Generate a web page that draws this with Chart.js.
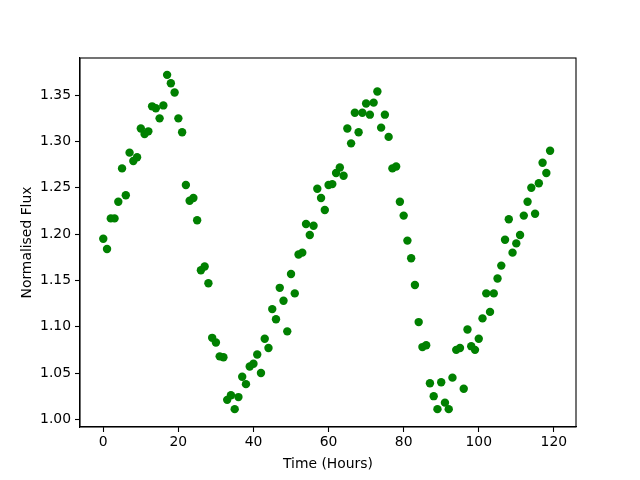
<!DOCTYPE html>
<html>
<head>
<meta charset="utf-8">
<script src="https://cdn.jsdelivr.net/npm/chart.js@4.4.1/dist/chart.umd.min.js"></script>
<style>
  html, body { margin: 0; padding: 0; background: #fff; }
  #wrap { width: 640px; height: 480px; }
</style>
</head>
<body>
<div id="wrap"><canvas id="chartFlux" width="640" height="480"></canvas></div>
<script>
// hours 0..119, one reading per hour
const hours = [];
for (let h = 0; h < 120; h++) hours.push(h);

const flux = [
    1.195, 1.184, 1.217, 1.217, 1.235, 1.271, 1.242, 1.288, 1.279, 1.283,
    1.314, 1.308, 1.311, 1.338, 1.336, 1.325, 1.339, 1.372, 1.363, 1.353,
    1.325, 1.310, 1.253, 1.236, 1.239, 1.215, 1.161, 1.165, 1.147, 1.088,
    1.083, 1.068, 1.067, 1.021, 1.026, 1.011, 1.024, 1.046, 1.038, 1.057,
    1.060, 1.070, 1.050, 1.087, 1.077, 1.119, 1.108, 1.142, 1.128, 1.095,
    1.157, 1.136, 1.178, 1.180, 1.211, 1.199, 1.209, 1.249, 1.239, 1.226,
    1.253, 1.254, 1.266, 1.272, 1.263, 1.314, 1.298, 1.331, 1.310, 1.331,
    1.341, 1.329, 1.342, 1.354, 1.315, 1.329, 1.305, 1.271, 1.273, 1.235,
    1.220, 1.193, 1.174, 1.145, 1.105, 1.078, 1.080, 1.039, 1.025, 1.011,
    1.040, 1.018, 1.011, 1.045, 1.075, 1.077, 1.033, 1.097, 1.079, 1.075,
    1.087, 1.109, 1.136, 1.116, 1.136, 1.152, 1.166, 1.194, 1.216, 1.180,
    1.190, 1.199, 1.220, 1.235, 1.250, 1.222, 1.255, 1.277, 1.266, 1.290
];

const xTicks = [0, 20, 40, 60, 80, 100, 120];
const yTicks = [1.00, 1.05, 1.10, 1.15, 1.20, 1.25, 1.30, 1.35];

const points = hours.map((h, i) => ({ x: h, y: flux[i] }));

const font = { family: "DejaVu Sans", size: 13.9 };

// draws the full box round the plot, like matplotlib's spines
const frame = {
    id: "frame",
    afterDraw(c) {
        const a = c.chartArea;
        const ctx = c.ctx;
        ctx.save();
        ctx.strokeStyle = "#000";
        ctx.lineWidth = 1.1;
        ctx.strokeRect(a.left, a.top, a.right - a.left, a.bottom - a.top);
        ctx.restore();
    }
};

const ctx = document.getElementById("chartFlux").getContext("2d");
new Chart(ctx, {
    type: "scatter",
    data: {
        datasets: [{
            label: "Flux",
            data: points,
            backgroundColor: "#008000",
            borderColor: "#008000",
            borderWidth: 0,
            pointRadius: 4.2,
            pointHoverRadius: 4.2
        }]
    },
    options: {
        responsive: false,
        animation: false,
        events: [],
        layout: { padding: { left: 0, top: 58, right: 64, bottom: 0 } },
        plugins: {
            legend: { display: false },
            tooltip: { enabled: false }
        },
        scales: {
            x: {
                type: "linear",
                min: -6.2,
                max: 125.9,
                afterBuildTicks: (axis) => { axis.ticks = xTicks.map(v => ({ value: v })); },
                afterFit: (axis) => { axis.height = 53; },
                grid: { drawOnChartArea: false, drawTicks: true, tickLength: 5, tickWidth: 1.1, tickColor: "#000" },
                border: { display: true, color: "#000", width: 1.1 },
                ticks: { color: "#000", font: font, padding: 2, maxRotation: 0 },
                title: { display: true, text: "Time (Hours)", color: "#000", font: font, padding: { top: 0, bottom: 7 } }
            },
            y: {
                type: "linear",
                min: 0.9917,
                max: 1.3902,
                afterBuildTicks: (axis) => { axis.ticks = yTicks.map(v => ({ value: v })); },
                afterFit: (axis) => { axis.width = 80; },
                grid: { drawOnChartArea: false, drawTicks: true, tickLength: 5, tickWidth: 1.1, tickColor: "#000" },
                border: { display: true, color: "#000", width: 1.1 },
                ticks: { color: "#000", font: font, padding: 4, callback: (v) => v.toFixed(2) },
                title: { display: true, text: "Normalised Flux", color: "#000", font: font, padding: { top: 19, bottom: 0 } }
            }
        }
    },
    plugins: [frame]
});
</script>
</body>
</html>
